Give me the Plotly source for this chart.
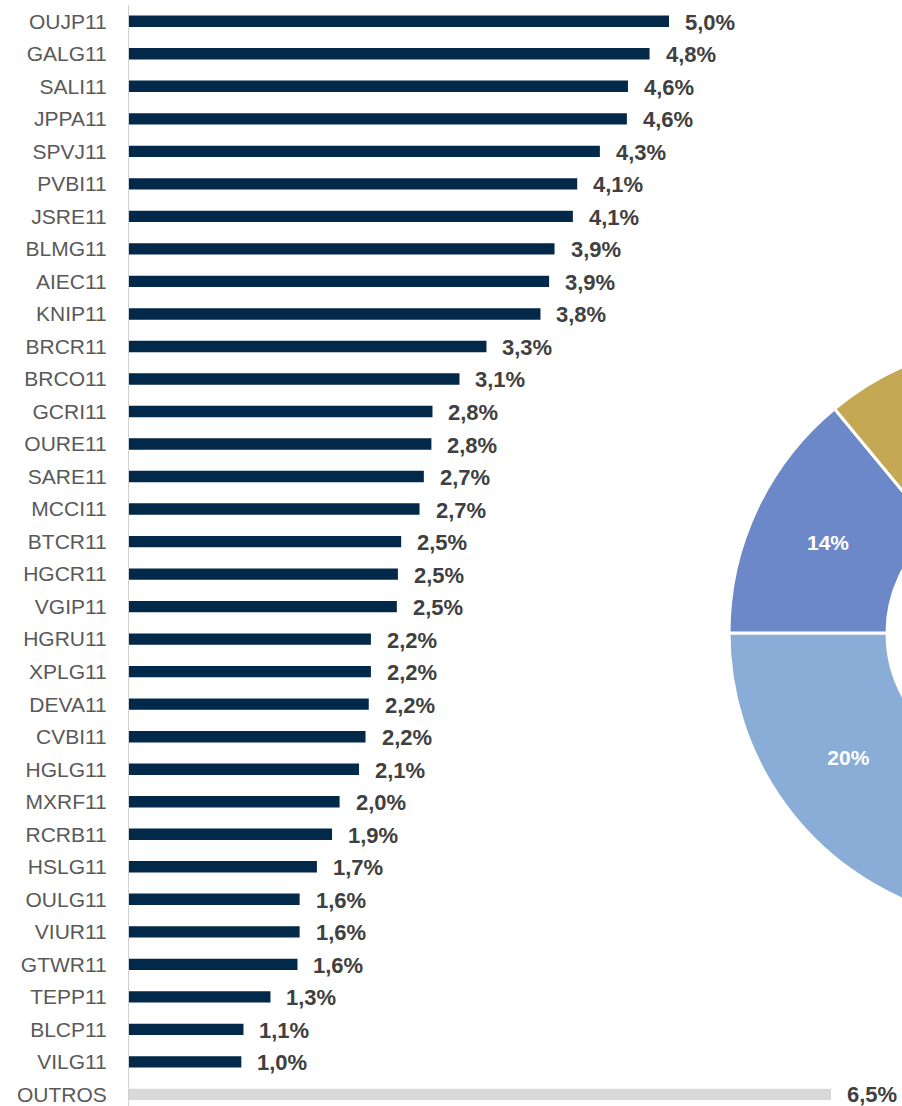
import plotly.graph_objects as go

# ---------------- data ----------------
tickers = ["OUJP11", "GALG11", "SALI11", "JPPA11", "SPVJ11", "PVBI11", "JSRE11",
           "BLMG11", "AIEC11", "KNIP11", "BRCR11", "BRCO11", "GCRI11", "OURE11",
           "SARE11", "MCCI11", "BTCR11", "HGCR11", "VGIP11", "HGRU11", "XPLG11",
           "DEVA11", "CVBI11", "HGLG11", "MXRF11", "RCRB11", "HSLG11", "OULG11",
           "VIUR11", "GTWR11", "TEPP11", "BLCP11", "VILG11", "OUTROS"]
weights = [5.00, 4.82, 4.62, 4.61, 4.36, 4.15, 4.11,
           3.94, 3.89, 3.81, 3.31, 3.06, 2.81, 2.80,
           2.73, 2.69, 2.52, 2.49, 2.48, 2.24, 2.24,
           2.22, 2.19, 2.13, 1.95, 1.88, 1.74, 1.58,
           1.58, 1.56, 1.31, 1.06, 1.04, 6.50]
weight_labels = ["5,0%", "4,8%", "4,6%", "4,6%", "4,3%", "4,1%", "4,1%",
                 "3,9%", "3,9%", "3,8%", "3,3%", "3,1%", "2,8%", "2,8%",
                 "2,7%", "2,7%", "2,5%", "2,5%", "2,5%", "2,2%", "2,2%",
                 "2,2%", "2,2%", "2,1%", "2,0%", "1,9%", "1,7%", "1,6%",
                 "1,6%", "1,6%", "1,3%", "1,1%", "1,0%", "6,5%"]

# donut (only the left part is visible in the picture)
seg_labels = ["Segmento A", "Segmento B", "Segmento C", "Demais segmentos"]
seg_values = [20, 14, 9, 57]
seg_text = ["20%", "14%", "", ""]

# ---------------- style ----------------
NAVY = "#03294A"
GREY_BAR = "#D9D9D9"
FONT = "Arial, Liberation Sans, sans-serif"

W, H = 1320, 1106
ML, MT = 129, 5
plot_w = W - ML
plot_h = H - MT
px_per_unit = 108.0
pitch = 32.52

bar_colors = [NAVY] * (len(tickers) - 1) + [GREY_BAR]

fig = go.Figure()
fig.add_trace(go.Bar(
    x=weights, y=tickers, orientation="h",
    marker=dict(color=bar_colors, line=dict(width=0)),
    width=0.35, hoverinfo="skip", showlegend=False,
))

for t, v, lab in zip(tickers, weights, weight_labels):
    fig.add_annotation(
        x=v, y=t, xref="x", yref="y", text=lab, showarrow=False,
        xanchor="left", yanchor="middle", xshift=14,
        yshift=-1 if t != "OUTROS" else 0,
        font=dict(family=FONT, size=22, color="#404040", weight="bold"),
    )

# donut geometry (pixels) -> paper domain
cx, cy, R = 1020, 633, 291
dx0 = (cx - R - ML) / plot_w
dx1 = (cx + R - ML) / plot_w
dy1 = 1 - (cy - R - MT) / plot_h
dy0 = 1 - (cy + R - MT) / plot_h

fig.add_trace(go.Pie(
    labels=seg_labels, values=seg_values, text=seg_text,
    textinfo="text", textposition="inside", insidetextorientation="horizontal",
    hole=0.457, sort=False, direction="clockwise", rotation=198,
    marker=dict(colors=["#89ADD6", "#6C88C9", "#C4A854", "#0B2A47"],
                line=dict(color="white", width=3)),
    textfont=dict(family=FONT, size=21, color="white", weight="bold"),
    domain=dict(x=[dx0, dx1], y=[dy0, dy1]),
    showlegend=False, hoverinfo="skip",
))

span = plot_h / pitch
fig.update_layout(
    width=W, height=H,
    margin=dict(l=ML, r=0, t=MT, b=0, pad=0),
    paper_bgcolor="white", plot_bgcolor="white",
    bargap=0.65,
    xaxis=dict(range=[0, plot_w / px_per_unit], visible=False, fixedrange=True),
    yaxis=dict(
        type="category", categoryorder="array", categoryarray=tickers,
        range=[-0.5 + span, -0.5],
        showline=True, linecolor="#D0D0D0", linewidth=1,
        showgrid=False, zeroline=False, ticks="", ticklabelstandoff=17,
        tickfont=dict(family=FONT, size=21, color="#595959"),
    ),
)

fig.write_html(
    "out.html",
    post_script=("document.body.style.margin='0';"
                 "document.documentElement.style.overflow='hidden';"
                 "document.body.style.overflow='hidden';"),
)
